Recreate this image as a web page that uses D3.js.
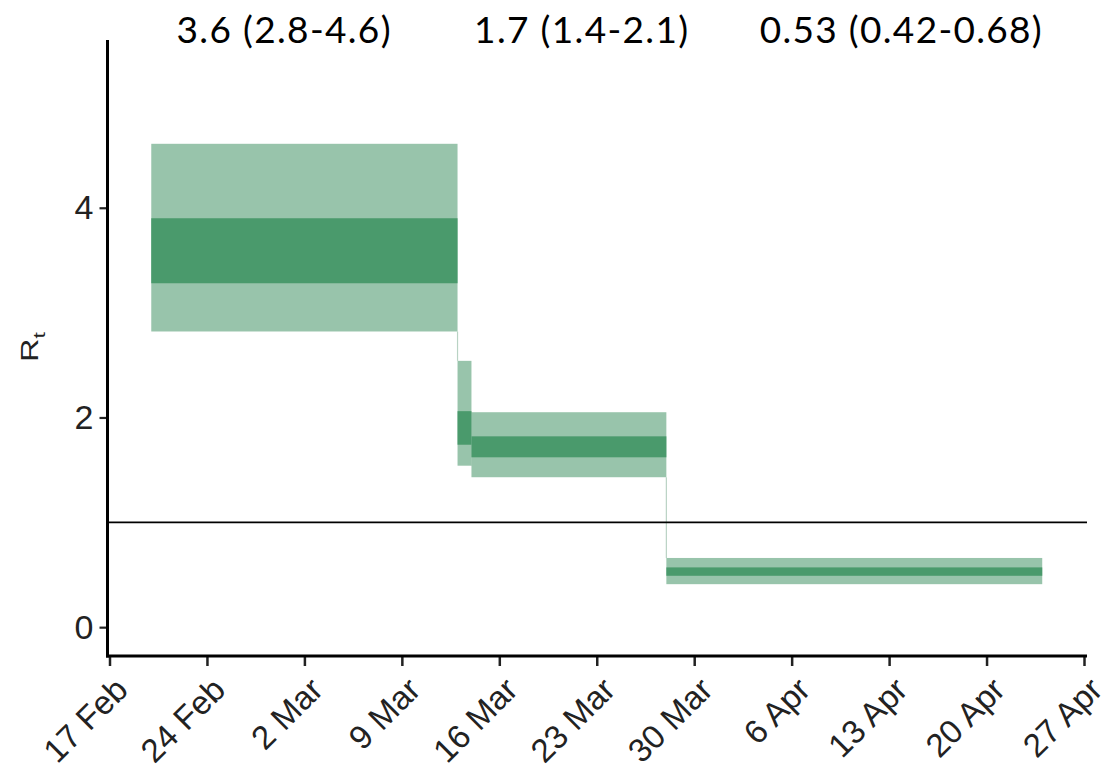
<!DOCTYPE html>
<html>
<head>
<meta charset="utf-8">
<script src="https://cdn.jsdelivr.net/npm/d3@7"></script>
<style>
  html, body { margin: 0; padding: 0; background: #ffffff; }
  svg { display: block; }
</style>
</head>
<body>
<svg id="chart" width="1119" height="778"></svg>
<script>
// ---- data ----
const periodStart = ["2020-02-20", "2020-03-13", "2020-03-14", "2020-03-28"];
const periodEnd   = ["2020-03-13", "2020-03-14", "2020-03-28", "2020-04-24"];
const outerLow  = [2.82, 1.54, 1.43, 0.41];
const outerHigh = [4.61, 2.54, 2.05, 0.66];
const innerLow  = [3.28, 1.74, 1.62, 0.49];
const innerHigh = [3.90, 2.06, 1.82, 0.57];
const annotations = ["3.6 (2.8-4.6)", "1.7 (1.4-2.1)", "0.53 (0.42-0.68)"];
const annotationCenter = ["2020-02-29T12", "2020-03-21T21", "2020-04-13T20"];
const tickDates = ["2020-02-17", "2020-02-24", "2020-03-02", "2020-03-09", "2020-03-16",
                   "2020-03-23", "2020-03-30", "2020-04-06", "2020-04-13", "2020-04-20", "2020-04-27"];
const yTicks = [0, 2, 4];
const threshold = 1;

const parse = d3.utcParse("%Y-%m-%d");
const parseH = d3.utcParse("%Y-%m-%dT%H");
const svg = d3.select("#chart");

const x = d3.scaleUtc()
  .domain([parse("2020-02-17"), parse("2020-04-27")])
  .range([109.5, 1084]);
const y = d3.scaleLinear()
  .domain([-0.275, 5.6])
  .range([656, 40]);

const axisLeftX = 107.5, axisRight = 1087, axisBottomY = 656;

const bands = periodStart.map((s, i) => ({
  x0: parse(s), x1: parse(periodEnd[i]),
  oLo: outerLow[i], oHi: outerHigh[i], iLo: innerLow[i], iHi: innerHigh[i]
}));

// step connectors (faint edges)
const conn = svg.append("g");
for (let i = 0; i < bands.length - 1; i++) {
  const a = bands[i], b = bands[i + 1];
  conn.append("line")
    .attr("x1", x(b.x0)).attr("x2", x(b.x0))
    .attr("y1", y(a.oLo)).attr("y2", y(b.oHi))
    .attr("stroke", "#b9d3c4").attr("stroke-width", 1.2);
}

// outer bands
svg.append("g").selectAll("rect").data(bands).join("rect")
  .attr("x", d => x(d.x0))
  .attr("width", d => x(d.x1) - x(d.x0))
  .attr("y", d => y(d.oHi))
  .attr("height", d => y(d.oLo) - y(d.oHi))
  .attr("fill", "#98c4ab");

// inner bands
svg.append("g").selectAll("rect").data(bands).join("rect")
  .attr("x", d => x(d.x0))
  .attr("width", d => x(d.x1) - x(d.x0))
  .attr("y", d => y(d.iHi))
  .attr("height", d => y(d.iLo) - y(d.iHi))
  .attr("fill", "#4a9a6c");

// threshold line
svg.append("line")
  .attr("x1", axisLeftX).attr("x2", axisRight)
  .attr("y1", y(threshold)).attr("y2", y(threshold))
  .attr("stroke", "#000").attr("stroke-width", 1.7);

// y axis
const yAxis = svg.append("g").attr("transform", `translate(${axisLeftX},0)`)
  .call(d3.axisLeft(y).tickValues(yTicks).tickFormat(d3.format("d"))
    .tickSize(8).tickPadding(6).tickSizeOuter(0));
yAxis.select(".domain").remove();
yAxis.selectAll(".tick line").attr("stroke", "#222").attr("stroke-width", 2.2);
yAxis.selectAll(".tick text")
  .attr("font-family", "Liberation Sans, Arial, sans-serif")
  .attr("font-size", 34).attr("fill", "#222");
svg.append("line")
  .attr("x1", axisLeftX).attr("x2", axisLeftX)
  .attr("y1", 40).attr("y2", axisBottomY + 1.5)
  .attr("stroke", "#000").attr("stroke-width", 3);

// x axis
const xAxis = svg.append("g").attr("transform", `translate(0,${axisBottomY})`)
  .call(d3.axisBottom(x).tickValues(tickDates.map(parse)).tickSize(10).tickSizeOuter(0)
    .tickFormat(d3.utcFormat("%-d %b")));
xAxis.select(".domain").remove();
xAxis.selectAll(".tick line").attr("stroke", "#222").attr("stroke-width", 2.5);
xAxis.selectAll(".tick text")
  .attr("font-family", "Liberation Sans, Arial, sans-serif")
  .attr("font-size", 33).attr("fill", "#222")
  .attr("text-anchor", "end")
  .attr("y", 0).attr("dy", "0.72em")
  .attr("transform", "translate(3,19) rotate(-45)");
svg.append("line")
  .attr("x1", axisLeftX - 1.5).attr("x2", axisRight)
  .attr("y1", axisBottomY).attr("y2", axisBottomY)
  .attr("stroke", "#000").attr("stroke-width", 3);

// y label R_t
const yl = svg.append("text")
  .attr("transform", "translate(38,347) rotate(-90) scale(1.35,1)")
  .attr("text-anchor", "middle")
  .attr("font-family", "Liberation Sans, Arial, sans-serif")
  .attr("font-size", 24).attr("fill", "#222");
yl.append("tspan").text("R");
yl.append("tspan").attr("font-size", 17).attr("dy", 7).text("t");

// annotations
const annWidth = [214, 214, 282];
svg.append("g").selectAll("text").data(annotations).join("text")
  .attr("x", (d, i) => x(parseH(annotationCenter[i])))
  .attr("y", 43)
  .attr("text-anchor", "middle")
  .attr("font-family", "Lato, 'Open Sans', sans-serif")
  .attr("font-size", 37)
  .attr("textLength", (d, i) => annWidth[i])
  .attr("lengthAdjust", "spacing")
  .attr("fill", "#000")
  .text(d => d);
</script>
</body>
</html>
